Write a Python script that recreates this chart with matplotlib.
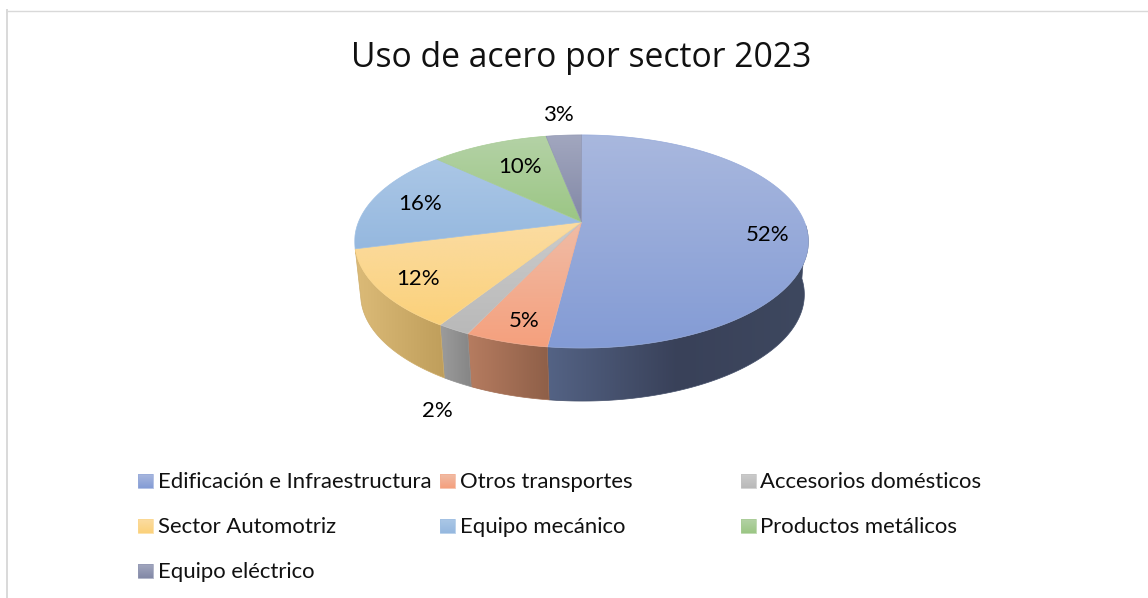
import numpy as np
import matplotlib
matplotlib.use("Agg")
import matplotlib.pyplot as plt
from matplotlib.colors import to_rgb
from matplotlib.patches import Polygon

# data
sectors = ["Edificación e Infraestructura", "Otros transportes", "Accesorios domésticos",
           "Sector Automotriz", "Equipo mecánico", "Productos metálicos", "Equipo eléctrico"]
shares = [52, 5, 2, 12, 16, 10, 3]
title = "Uso de acero por sector 2023"

# colours: top of slice gradient (light, dark), then wall gradient for the front slices
top_light = ["#a9b8de", "#f0bca6", "#cbcbcb", "#fbdca2", "#abc7e6", "#b4d2a6", "#a2a7bf"]
top_dark = ["#839bd5", "#f5a07d", "#b9b9b9", "#fbd17a", "#95b8df", "#9bc684", "#8288a6"]
wall_stops = [["#546385", "#394159", "#3e485f"],
              ["#b67c60", "#8e5f48"],
              ["#9c9c9c", "#858585"],
              ["#dcbb78", "#bf9e5b"]]

# layout, pixels of the final image
label_xy = [(768, 235), (524, 321), (437, 411), (418, 279), (420, 204), (520, 167), (558, 115)]
legend_col = [138, 440, 741]
legend_row = [481, 526, 571]
cx, cy = 581.5, 222
a, b, k = 223.0, 103.0, 0.183   # perspective disc
depth = 53.0
bottom_scale = 0.978
bottom_shift = 1.0

fig = plt.figure(figsize=(11.48, 5.98), dpi=100)
ax = fig.add_axes([0, 0, 1, 1])
ax.set_axis_off()


def disc(theta):
    """theta in radians clockwise from the top, gives pixel position on the tilted disc."""
    u, v = np.sin(theta), np.cos(theta)
    w = 1 + k * v
    return cx + a * u / w, cy - b * v / w


def fill_gradient(xy, stops, vertical=True, zorder=2):
    xy = np.asarray(xy)
    cols = np.array([to_rgb(c) for c in stops])
    t = np.linspace(0, 1, 256)
    ramp = np.stack([np.interp(t, np.linspace(0, 1, len(stops)), cols[:, i]) for i in range(3)], axis=-1)
    img = ramp[:, None, :] if vertical else ramp[None, :, :]
    x0, x1, y0, y1 = xy[:, 0].min(), xy[:, 0].max(), xy[:, 1].min(), xy[:, 1].max()
    im = ax.imshow(img, extent=(x0, x1, y1, y0), aspect="auto", interpolation="bilinear", zorder=zorder)
    clip = Polygon(xy, closed=True, transform=ax.transData, facecolor="none", edgecolor="none")
    ax.add_patch(clip)
    im.set_clip_path(clip)
    # soft edge, image clipping is not antialiased
    ax.add_patch(Polygon(xy, closed=True, facecolor="none", edgecolor=cols.mean(axis=0),
                         linewidth=0.5, zorder=zorder))


edges = np.cumsum([0] + shares) / sum(shares) * 2 * np.pi

# walls first, only the part that faces the viewer
vis_start = np.radians(92)
for i, stops in enumerate(wall_stops):
    t0, t1 = max(edges[i], vis_start), edges[i + 1]
    th = np.linspace(t0, t1, 120)
    x, y = disc(th)
    xb = cx + bottom_shift + (x - cx) * bottom_scale
    yb = y + depth
    poly = np.r_[np.c_[x, y], np.c_[xb, yb][::-1]]
    fill_gradient(poly, stops, vertical=False, zorder=2)

# top faces
for i in range(len(shares)):
    th = np.linspace(edges[i], edges[i + 1], 200)
    x, y = disc(th)
    poly = np.r_[[[cx, cy]], np.c_[x, y]]
    fill_gradient(poly, [top_light[i], top_dark[i]], zorder=3)

for (lx, ly), v in zip(label_xy, shares):
    ax.text(lx, ly, f"{v}%", ha="center", va="center", fontsize=16, family="Lato",
            color="#000000", zorder=5)

ax.text(581.5, 58, title, ha="center", va="center", fontsize=24.2, family="Open Sans", color="#111111")

# legend
for i, name in enumerate(sectors):
    lx, ly = legend_col[i % 3], legend_row[i // 3]
    sw = [(lx, ly - 7), (lx + 15, ly - 7), (lx + 15, ly + 7), (lx, ly + 7)]
    fill_gradient(sw, [top_light[i], top_dark[i]], zorder=4)
    ax.text(lx + 19.5, ly + 1, name, ha="left", va="center", fontsize=15.9, family="Lato", color="#111111")

# chart frame, cropped on the right and bottom
ax.plot([6.5, 1148], [10.5, 10.5], color="#d9d9d9", lw=1.0, zorder=1)
ax.plot([6.5, 6.5], [10, 598], color="#d9d9d9", lw=1.4, zorder=1)

ax.set_xlim(0, 1148)
ax.set_ylim(598, 0)
fig.savefig("out.png", dpi=100, facecolor="white")
